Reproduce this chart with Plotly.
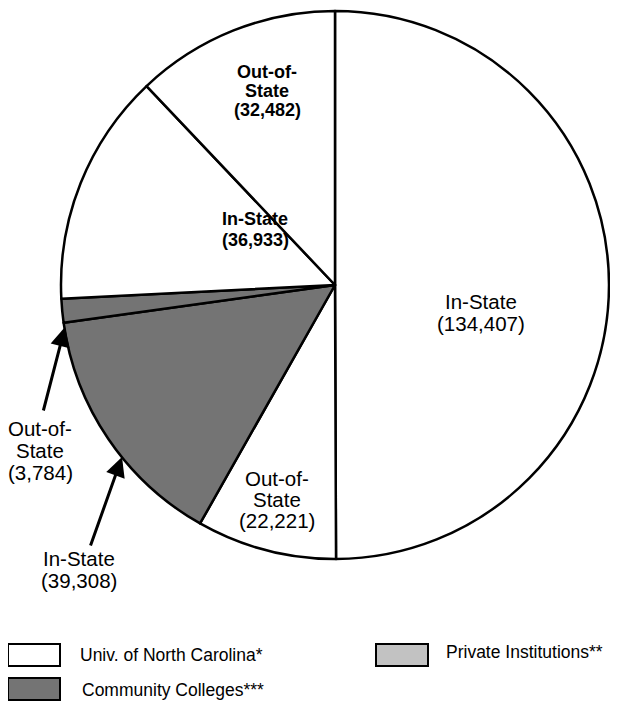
import plotly.graph_objects as go

# Data (clockwise from 12 o'clock)
slice_labels = ["In-State", "Out-of-State", "In-State", "Out-of-State", "In-State", "Out-of-State"]
slice_values = [134407, 22221, 39308, 3784, 36933, 32482]
slice_groups = ["Univ. of North Carolina*", "Univ. of North Carolina*",
                "Community Colleges***", "Community Colleges***",
                "Univ. of North Carolina*", "Univ. of North Carolina*"]
legend_items = ["Univ. of North Carolina*", "Community Colleges***", "Private Institutions**"]

group_colors = {
    "Univ. of North Carolina*": "#ffffff",
    "Community Colleges***": "#747474",
    "Private Institutions**": "#c2c2c2",
}

# page body has an 8px margin; figure is sized so it fits the window
OFF = 8
W, H = 602, 695
FONT = "Liberation Sans, Arial, Helvetica, sans-serif"

def px(x):
    return (x - OFF) / W

def py(y):
    return 1 - (y - OFF) / H

fig = go.Figure()
fig.add_trace(go.Pie(
    labels=[f"{l} {i}" for i, l in enumerate(slice_labels)],
    values=slice_values,
    sort=False,
    direction="clockwise",
    rotation=0,
    textinfo="none",
    hoverinfo="label+value",
    marker=dict(colors=[group_colors[g] for g in slice_groups],
                line=dict(color="black", width=2.5)),
    domain=dict(x=[px(335 - 274), px(335 + 274)], y=[py(285 + 274), py(285 - 274)]),
    showlegend=False,
))

def lines_for(i):
    lab = slice_labels[i]
    parts = ["Out-of-", "State"] if lab == "Out-of-State" else [lab]
    return parts + [f"({slice_values[i]:,})"]

annotations = []
# label placement: slice index -> (center x, first line y, line pitch, font size, bold)
placement = {
    0: (481, 301, 22, 20.5, False),
    1: (277, 478, 21, 20.5, False),
    2: (79, 558, 22, 20.5, False),
    3: (40, 428, 22, 20.5, False),
    4: (255, 219, 21, 18, True),
    5: (267, 72, 19, 18, True),
}
for i, (cx, y0, pitch, size, bold) in placement.items():
    for k, line in enumerate(lines_for(i)):
        txt = f"<b>{line}</b>" if bold else line
        annotations.append(dict(x=px(cx), y=py(y0 + k * pitch), xref="paper", yref="paper",
                                text=txt, showarrow=False, xanchor="center", yanchor="middle",
                                font=dict(family=FONT, size=size, color="black")))

# arrows for the outside labels: (tip x, tip y, tail x, tail y)
arrows = [(65, 327, 43, 412), (122, 457, 90, 547)]
for tx, ty, sx, sy in arrows:
    annotations.append(dict(x=px(tx), y=py(ty), xref="paper", yref="paper", text="",
                            showarrow=True, ax=sx - tx, ay=sy - ty,
                            arrowhead=2, arrowsize=1.3, arrowwidth=3, arrowcolor="black"))

# custom legend: (box x, box y, text x, text y, anchor)
legend_pos = [(8, 644, 78, 655, "left"), (8, 678, 80, 690, "left"), (376, 644, 605, 652, "right")]
shapes = []
for name, (bx, by, tx, ty, anc) in zip(legend_items, legend_pos):
    shapes.append(dict(type="rect", xref="paper", yref="paper",
                       x0=px(bx), x1=px(bx + 52), y0=py(by + 22), y1=py(by),
                       fillcolor=group_colors[name], line=dict(color="black", width=2)))
    annotations.append(dict(x=px(tx), y=py(ty), xref="paper", yref="paper", text=name,
                            showarrow=False, xanchor=anc, yanchor="middle",
                            font=dict(family=FONT, size=17.5, color="black")))

fig.update_layout(
    width=W, height=H,
    margin=dict(l=0, r=0, t=0, b=0),
    paper_bgcolor="white", plot_bgcolor="white",
    annotations=annotations, shapes=shapes,
)

fig.write_html("out.html")
